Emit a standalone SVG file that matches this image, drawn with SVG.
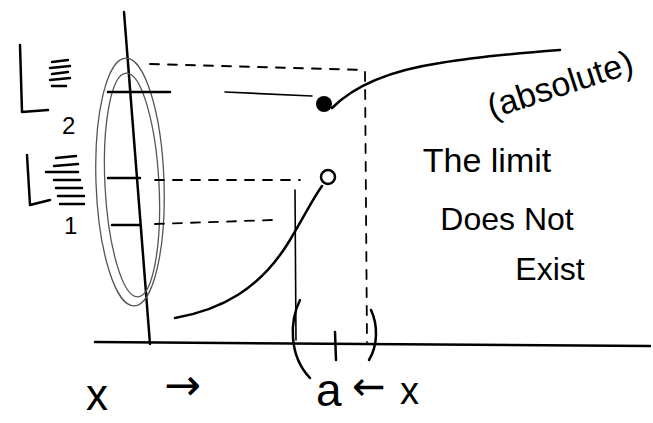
<svg xmlns="http://www.w3.org/2000/svg" width="653" height="423" viewBox="0 0 653 423">
<style>
.s{fill:none;stroke:#000;stroke-width:2.5;stroke-linecap:round;stroke-linejoin:round}
.t{fill:none;stroke:#000;stroke-width:1.6;stroke-linecap:round}
.g{fill:none;stroke:#555;stroke-width:1.3}
.d{fill:none;stroke:#000;stroke-width:1.8;stroke-dasharray:9 9;stroke-linecap:round}
.h{font-family:"Liberation Sans","DejaVu Sans",sans-serif;fill:#000}
.a{font-family:"DejaVu Sans",sans-serif;fill:#000}
</style>
<rect width="653" height="423" fill="#fff"/>
<g id="axes">
<path class="s" d="M124 12 L150 344"/>
<path class="s" d="M95 342 L650 346"/>
</g>
<g id="ellipse">
<ellipse class="g" cx="130" cy="182" rx="34" ry="124" transform="rotate(-2 130 182)"/>
<ellipse class="g" cx="132" cy="185" rx="27" ry="112" transform="rotate(-3 132 185)"/>
</g>
<g id="connectors">
<path class="d" d="M150 64 L365 70"/>
<path class="d" d="M365 72 L367 342"/>
<path class="t" d="M225 92 L312 96"/>
<path class="s" d="M108 92 L170 92"/>
<path class="s" d="M108 178 L140 178"/>
<path class="d" d="M155 180 L300 180"/>
<path class="s" d="M112 225 L140 225"/>
<path class="d" d="M155 224 L272 220"/>
<path class="t" d="M295 190 L296 340"/>
</g>
<g id="upper-branch">
<path class="s" d="M332 108 C350 90 380 72 440 63 C480 56 520 53 560 50"/>
<circle cx="324" cy="104" r="8" fill="#000"/>
</g>
<g id="lower-branch">
<path class="s" d="M175 318 C220 310 260 290 290 240 C305 215 312 200 322 186"/>
<circle cx="328" cy="177" r="7" fill="#fff" stroke="#000" stroke-width="2.5"/>
</g>
<g id="interval">
<path class="s" d="M300 300 C290 320 288 355 310 378"/>
<path class="s" d="M335 332 L336 360"/>
<path class="s" d="M371 310 C378 325 378 345 369 360"/>
</g>
<g id="labels">
<path class="s" d="M20 45 L22 112 L48 110"/>
<path class="s" d="M52 62 L68 60 M50 68 L70 66 M52 74 L68 72 M50 80 L70 78 M52 86 L66 86"/>
<text class="h" x="62" y="134" font-size="24">2</text>
<path class="s" d="M27 155 L30 205 L50 200"/>
<path class="s" d="M56 158 L76 156 M54 166 L78 164 M46 172 L78 172 M54 180 L80 180 M56 188 L82 188 M58 196 L84 196 M60 204 L84 204"/>
<text class="h" x="64" y="234" font-size="24">1</text>
<text class="h" x="560" y="96" font-size="34" text-anchor="middle" transform="rotate(-18 560 84)">(absolute)</text>
<text class="h" x="487" y="172" font-size="34" text-anchor="middle">The limit</text>
<text class="h" x="507" y="230" font-size="32" text-anchor="middle">Does Not</text>
<text class="h" x="550" y="280" font-size="32" text-anchor="middle">Exist</text>
<text class="h" x="86" y="410" font-size="44">x</text>
<text class="a" x="164" y="400" font-size="44">→</text>
<text class="h" x="316" y="406" font-size="46">a</text>
<text class="a" x="352" y="400" font-size="40">←</text>
<text class="h" x="400" y="404" font-size="38">x</text>
</g>
</svg>
